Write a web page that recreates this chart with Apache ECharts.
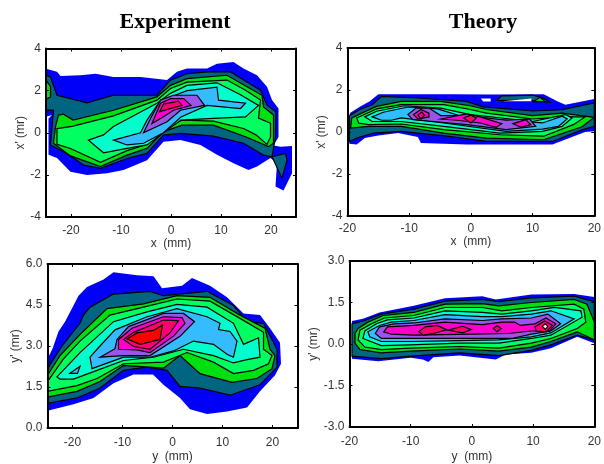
<!DOCTYPE html>
<html><head><meta charset="utf-8"><style>html,body{margin:0;padding:0;background:#fff}#c{width:604px;height:464px}</style>
<script src="https://cdn.jsdelivr.net/npm/echarts@6/dist/echarts.min.js"></script></head><body><div id="c"></div>
<script>
const levelColors={blue:'#0000fa',teal:'#006580',green:'#00e010',spring:'#00ff60',aqua:'#00ffcc',sky:'#35bcff',purple:'#9a55e8',magenta:'#ff00cc',crimson:'#ff0070',red:'#ff0000',white:'#ffffff'};
const tlX=[-20,-10,0,10,20], tlY13=[-4,-2,0,2,4], tlY3=[0,1.5,3,4.5,6], tlY4=[-3,-1.5,0,1.5,3];

// Experiment x-x'
const e1Blue=[[-25,3.04],[-22.8,2.9],[-22.1,2.7],[-18.1,2.73],[-15.1,2.8],[-11.5,2.65],[-6.1,2.65],[-.8,2.5],[1.2,2.9],[3.2,3.05],[7.2,3.05],[9.2,3.28],[12.5,3.36],[14.5,3.05],[17.2,2.73],[19.2,2.18],[20.2,1.55],[21.5,1.15],[21.5,-.2],[20.5,-.6],[21.9,-.66],[24.2,-.63],[24.2,-1.92],[22.5,-2.74],[20.9,-2.55],[21.2,-1.45],[19.9,-1.2],[17.2,-1.6],[15.5,-1.77],[12.5,-1.45],[9.2,-1.05],[5.9,-.58],[1.9,-.35],[-1.5,-.43],[-4.8,-1.3],[-9.5,-1.77],[-12.8,-1.92],[-16.8,-2],[-20.1,-1.85],[-22.8,-1.2],[-24.5,-1.05],[-24.5,.68],[-23.8,.84],[-25,.76]];
const e1Teal=[[-25,2.73],[-24.1,2.65],[-22.8,1.78],[-16.8,1.42],[-11.5,1.78],[-2.8,1.78],[-.1,2.5],[3.2,2.8],[7.2,2.89],[11.9,2.89],[15.2,2.41],[17.9,2.02],[19.2,1.31],[21,1],[20.9,-.2],[20.2,-1.14],[18.5,-1.06],[14.5,-.5],[8.5,-.16],[1.9,-.03],[-1.5,-.11],[-4.8,-.98],[-8.5,-1.2],[-14.1,-1.69],[-17.5,-1.53],[-20.8,-.98],[-24.1,-.58],[-23.5,1.07],[-25,1.07]];
const e1TealB=[[20.2,-1.14],[22.9,-.98],[23.2,-1.3],[22.2,-2.16]];
const e1GreenA=[[-25,2.5],[-24.1,2.2],[-24.1,1.7],[-25,1.6]];
const e1Green=[[-22.5,.84],[-21.5,.88],[-19.6,.6],[-11.5,1.07],[-2.8,1.7],[-.1,2.25],[3.2,2.57],[11.2,2.73],[15.2,2.18],[18.2,1.78],[18.5,1.23],[20.5,.84],[20.5,-.5],[19.5,-.66],[14.9,-.19],[8.5,.36],[2.2,.36],[-1.5,.05],[-4.8,-.74],[-8.8,-1.06],[-14.1,-1.6],[-20.1,-1.1],[-23.5,-.5],[-23.1,.28]];
const e1Spring=[[-22.8,.2],[-19.8,.3],[-11.5,.8],[-2.8,1.55],[-.1,2.1],[3.2,2.4],[11.2,2.5],[14.9,2.02],[17.9,1.55],[17.5,.7],[19.9,.45],[19.9,-.2],[19.2,-.55],[17,-.1],[14.5,.2],[8.5,.55],[2.2,.6],[-1.5,.2],[-4.8,-.55],[-8.8,-.85],[-14.1,-1.4],[-20.1,-.75],[-22.8,-.55]];
const e1Aqua=[[-16.5,-.35],[-13.5,-.1],[-11.5,.3],[-2.8,1.4],[-.1,1.87],[3.2,2.25],[9.2,2.37],[13.9,1.8],[17.5,1.3],[14.9,.75],[8.5,.68],[2,.6],[-1.5,0],[-4.8,-.58],[-8.8,-.74],[-13.5,-.95]];
const e1Sky=[[-11.5,-.35],[-6.1,0],[-4.8,.6],[-2.8,1.3],[-.1,1.7],[3.2,2],[9.2,2.17],[9.5,1.55],[14.9,1.4],[13.9,1.15],[7.2,1.3],[2,.75],[-1.5,0],[-5.5,-.5],[-8.8,-.58]];
const e1Purple=[[-5.5,0],[-4.1,.68],[-2.1,1.55],[.5,1.78],[5.2,1.78],[6.7,1.3],[1.9,1.07],[-.8,.52]];
const e1Magenta=[[-3.8,.44],[-2.1,1.4],[-.1,1.62],[2.5,1.62],[4,1.3],[.5,1.07],[-1.5,.76]];
const e1Crimson=[[-2.3,1],[-1.5,1.36],[1.5,1.5],[2.2,1.3],[-.1,1.15]];

// Theory x-x'
const t1Blue=[[-19.6,.9],[-18,1.2],[-16.4,1.46],[-15,1.8],[-3,1.8],[3,1.78],[11.8,1.8],[14,1.46],[15.3,1.3],[20,1.57],[20,.03],[18.5,0],[13.2,-.6],[10,-.6],[4.7,-.6],[-.7,-.6],[-8.1,-.52],[-8.6,-.24],[-11.8,-.05],[-15,-.17],[-17.2,-.29],[-18.5,-.6],[-19.7,-.56]];
const t1Teal=[[-19.7,.78],[-18,1.07],[-16,1.3],[-14.5,1.7],[-8.6,1.62],[-.7,1.46],[2,1.2],[10,1],[14.8,1.07],[20,1.38],[20,.27],[18,.1],[13.2,-.45],[10,-.45],[2.5,-.45],[-3.9,-.2],[-11.3,.03],[-15.8,-.05],[-18.5,-.29],[-19.7,-.45]];
const t1TealB=[[4.2,1.5],[5,1.72],[10,1.76],[11.8,1.6],[12.8,1.42],[9,1.52]];
const t1Green=[[-19.3,.67],[-17.7,.9],[-15.3,1.22],[-11.3,1.46],[-4.9,1.46],[-.1,1.25],[2.5,1.07],[10,.78],[14.8,.9],[20,.7],[18,.25],[11.8,-.37],[2.5,-.29],[-4.4,-.05],[-11.3,.27],[-16.6,.27],[-19.5,.19]];
const t1GreenB=[[10.2,1.45],[11.2,1.65],[12,1.45]];
const t1Spring=[[-18.5,.67],[-15.3,1.1],[-11.3,1.3],[-4.4,1.3],[-.1,1.07],[2.5,.9],[10,.62],[15.3,.72],[18.5,.72],[16.6,.35],[11.8,-.2],[4.7,-.13],[-4.4,.11],[-11.3,.38],[-16.6,.35],[-18.2,.43]];
const t1Aqua=[[-17.2,.72],[-15.3,.99],[-10.8,1.25],[-4.9,1.14],[-.1,.83],[10,.5],[15.3,.83],[16.4,.67],[14.8,.27],[11.6,.03],[4.7,-.05],[-4.4,.27],[-11.3,.5],[-16,.5]];
const t1Sky=[[-16,.72],[-14.2,.94],[-10.2,1.19],[-5.4,1.1],[-.1,.62],[4.7,.59],[11.6,.43],[14.8,.75],[15.6,.62],[14.2,.27],[11.6,.14],[5.7,.03],[-4.4,.43],[-11.3,.67],[-12.9,.56],[-14.5,.56]];
const t1Purple=[[-10.2,.83],[-8.9,1.14],[-6.8,1.14],[-4.9,.78],[-.7,.78],[2.5,.67],[5.7,.56],[9.5,.62],[10.5,.27],[5.7,.11],[-.7,.35],[-6,.5],[-9.4,.59]];
const t1MagentaA=[[-9.3,.83],[-8.1,1.07],[-6.8,.9],[-6.8,.72],[-8.6,.62]];
const t1MagentaB=[[-4.9,.62],[-.7,.86],[1.5,.72],[5,.4],[4.1,.22],[1.5,.43],[-2.3,.56]];
const t1MagentaC=[[6.8,.4],[8.9,.59],[9.7,.35],[8.1,.22]];
const t1CrimsonA=[[-1.2,.67],[0,.8],[.9,.67],[0,.43]];
const t1CrimsonB=[[-8.6,.8],[-8,.95],[-7.5,.8],[-8.1,.62]];
const t1HoleA=[[1.6,1.6],[3.2,1.6],[3.2,1.45],[2,1.45]];
const t1HoleB=[[5.2,1.46],[9.8,1.6],[9.8,1.46]];

// Experiment y-y'
const e2Blue=[[-25,2.53],[-24,2.9],[-22.8,3.53],[-21.5,3.89],[-19.8,4.48],[-18.8,4.84],[-17.1,5.16],[-13.8,5.43],[-11.8,5.7],[-7.1,5.59],[-3.8,5.55],[-2.1,5.11],[1.9,5.2],[3.9,5.49],[7.5,5.2],[10.9,4.78],[14.2,4.19],[17.5,4.13],[19.5,3.65],[21.5,3.12],[21.7,2.35],[20.5,1.93],[17.5,1.34],[14.9,.75],[10.9,.6],[6.9,.51],[3.5,.69],[1.5,1.1],[-1.8,1.58],[-3.9,1.96],[-7.8,1.96],[-11.8,1.64],[-15.8,1.1],[-19.8,.87],[-25,.63]];
const e2Teal=[[-25,2.17],[-22.1,3],[-18.5,3.83],[-17.8,4.13],[-16.5,4.42],[-11.8,4.9],[-4.5,5],[-1.8,4.84],[6.9,5],[12.2,4.48],[14.9,3.89],[18.2,3.83],[20.9,2.88],[20.9,2.23],[17.5,1.58],[11.5,1.2],[5.5,1.46],[1.5,1.52],[-1.1,2.11],[-5.1,2.23],[-9.8,2.11],[-14.5,1.46],[-19.1,1.1],[-25,.9]];
const e2Green=[[-25,1.93],[-22.5,2.65],[-18.5,3.42],[-13.1,4.37],[-5.8,4.54],[.9,4.84],[7.5,4.78],[13.5,4.13],[18.5,3.65],[19.5,2.88],[20.5,2.65],[19.9,2.17],[16.9,1.81],[11.9,1.67],[5.5,1.99],[1.5,2.65],[-1.8,2.19],[-9.8,2.29],[-14.5,1.7],[-19.1,1.34],[-25,1.13]];
const e2Spring=[[-25,1.7],[-21.8,2.53],[-18.5,3.18],[-12.5,4.13],[-5.8,4.42],[.9,4.72],[7.5,4.64],[13.5,4.01],[18.2,3.5],[18.2,2.88],[19.9,2.65],[19.2,2.35],[16.2,2.11],[12.2,1.99],[8.2,2.41],[2.9,2.76],[-1.8,2.41],[-9.8,2.35],[-15.1,1.81],[-19.1,1.55],[-25,1.34]];
const e2Aqua=[[-23.1,1.87],[-18.5,2.76],[-11.8,3.89],[-5.1,4.25],[.9,4.52],[6.9,4.42],[12.2,3.83],[14.2,3.06],[17.2,3.3],[17.5,2.59],[14.9,2.5],[12.2,2.38],[8.2,2.65],[2.2,2.88],[-3.8,2.59],[-9.8,2.47],[-15.1,2.11],[-19.8,1.79],[-22.5,1.79]];
const e2SkyB=[[-20.5,2],[-18.5,2.26],[-19,2]];
const e2Sky=[[-16.5,2.59],[-14.5,3],[-11.5,3.59],[-5.1,4.07],[.9,4.37],[6.9,4.07],[9.5,3.83],[9.2,3.6],[11.5,3.53],[12.9,3.18],[12.2,2.59],[10.9,2.7],[8.2,3.06],[4.2,3.18],[.2,2.82],[-4.5,2.59],[-9.8,2.59],[-16.1,2.17]];
const e2Purple=[[-14.5,2.59],[-11.5,2.9],[-11.1,3.24],[-8.8,3.71],[-1.8,4.19],[2.2,4.19],[4.4,3.89],[1.5,3.36],[-4.5,2.65],[-9.8,2.65]];
const e2Magenta=[[-10.8,2.88],[-10.8,3.24],[-8.1,3.65],[-1.8,4.07],[1.9,4.04],[2.5,3.83],[.2,3.36],[-4.5,2.76],[-7.1,2.86]];
const e2Crimson=[[-9.8,3.24],[-7.8,3.5],[-1.8,3.95],[1.2,3.93],[-.5,3.48],[-4.5,2.88],[-7.8,2.98]];
const e2Red=[[-9.1,3.26],[-7.1,3.48],[-3.8,3.57],[-2,3.77],[-2.5,3.24],[-6.5,3.06]];

// Theory y-y'
const t2Blue=[[-19.6,.83],[-17.8,.91],[-15.1,1.14],[-9.5,1.38],[-4.4,1.65],[1.7,1.73],[3.9,1.61],[9.7,1.79],[16.7,1.81],[20,1.7],[20,.03],[17.2,.26],[12.9,-.15],[9.7,-.32],[5.5,-.38],[3.9,-.56],[-2,-.42],[-5.7,-.47],[-6.3,-.48],[-7.1,-.65],[-8,-.56],[-10,-.5],[-15.3,-.62],[-19.6,-.53]];
const t2Teal=[[-19.6,.73],[-17.5,.85],[-14.8,1.08],[-9.5,1.26],[-4.4,1.55],[1.7,1.61],[4.4,1.53],[9.7,1.67],[16.7,1.73],[20,1.53],[20,.15],[17.2,.32],[12.9,-.03],[9.7,-.23],[4.4,-.42],[-2,-.32],[-10,-.44],[-14.8,-.53],[-19.6,-.44]];
const t2Green=[[-19.1,.38],[-18.6,.56],[-17,.79],[-14.5,1.03],[-9.5,1.14],[-4.4,1.44],[1.7,1.46],[4.4,1.38],[9.7,1.5],[16.7,1.61],[18.8,1.44],[20,.79],[20,.15],[17.2,.44],[12.9,.09],[9.7,-.11],[4.4,-.26],[-2,-.18],[-10,-.26],[-14.8,-.32],[-18.3,-.2],[-19.1,.03]];
const t2Spring=[[-18.6,.15],[-18.3,.5],[-16.4,.73],[-14.3,.94],[-9.5,1.03],[-4.4,1.32],[1.7,1.32],[4.9,1.2],[9.7,1.32],[16.7,1.44],[18.3,1.26],[18.6,.79],[17.2,.56],[12.9,.2],[9.7,.03],[4.4,-.15],[-2,-.09],[-10,-.15],[-14.8,-.2],[-17.5,-.11]];
const t2Aqua=[[-17.8,.2],[-17.5,.47],[-15.6,.73],[-13.8,.87],[-9.5,.94],[-4.4,1.2],[1.7,1.14],[4.9,1.08],[9.7,1.2],[13.5,1.32],[17.8,1.2],[18,.97],[12.9,.32],[9.7,.2],[4.4,.03],[-2,.03],[-10,-.03],[-14.8,-.06]];
const t2Sky=[[-16.7,.26],[-17,.44],[-15.1,.67],[-13.2,.79],[-9.5,.85],[-4.4,1.06],[1.7,.99],[4.9,.99],[9.7,1.08],[12.9,1.2],[16.7,.91],[12.9,.4],[9.7,.26],[4.4,.15],[-2,.12],[-10,.09],[-14.8,.09]];
const t2Purple=[[-15.8,.38],[-15.1,.62],[-12.7,.73],[-9.5,.76],[-4.4,.91],[1.7,.85],[4.9,.91],[9.7,.94],[12.4,1.08],[14.5,.73],[12.9,.47],[9.7,.36],[6.5,.2],[-2,.2],[-10,.2],[-14.8,.2]];
const t2Magenta=[[-14.4,.44],[-13.8,.62],[-9.5,.67],[-4.4,.79],[1.7,.7],[4.9,.79],[7,.79],[7.9,.67],[10.3,.73],[12.1,.94],[13.7,.73],[12.7,.47],[9.7,.47],[6,.38],[.1,.36],[-9.5,.32],[-13.2,.36]];
const t2CrimsonA=[[-8.7,.44],[-7.6,.62],[-5.7,.67],[-4.1,.52],[-6.3,.38],[-7.9,.32]];
const t2CrimsonB=[[-3.9,.5],[-1.5,.64],[-.1,.52],[-1.5,.4]];
const t2CrimsonC=[[3.5,.56],[4.1,.66],[4.8,.56],[4.1,.44]];
const t2CrimsonD=[[10.3,.62],[11.9,.83],[13.2,.67],[12.1,.44],[10.5,.47]];
const t2White=[[11.5,.64],[12,.73],[12.4,.64],[12,.53]];

const panels=[
 {box:[46,48.5,250,168.5],x:[-25,25],y:[-4,4],yt:tlY13,yd:0,xn:'x  (mm)',yn:"x' (mr)",lm:8,ng:20,yg:16,
  layers:[['blue',e1Blue,0],['teal',e1Teal],['teal',e1TealB],['green',e1GreenA],['green',e1Green],['spring',e1Spring],['aqua',e1Aqua],['sky',e1Sky],['purple',e1Purple],['magenta',e1Magenta],['crimson',e1Crimson]]},
 {box:[347.5,48,250.5,168],x:[-20,20],y:[-4,4],yt:tlY13,yd:0,xn:'x  (mm)',yn:"x' (mr)",lm:7,ng:20,yg:16,
  layers:[['blue',t1Blue,0],['teal',t1Teal],['teal',t1TealB],['green',t1GreenB],['white',t1HoleA,0],['white',t1HoleB,0],['green',t1Green],['spring',t1Spring],['aqua',t1Aqua],['sky',t1Sky],['purple',t1Purple],['magenta',t1MagentaA],['magenta',t1MagentaB],['magenta',t1MagentaC],['crimson',t1CrimsonA],['crimson',t1CrimsonB]]},
 {box:[47.5,264,250,168.5],x:[-25,25],y:[0,6],yt:tlY3,yd:1,xn:'y  (mm)',yn:"y' (mr)",lm:9,ng:23,yg:21,
  layers:[['blue',e2Blue,0],['teal',e2Teal],['green',e2Green],['spring',e2Spring],['aqua',e2Aqua],['sky',e2SkyB],['sky',e2Sky],['purple',e2Purple],['magenta',e2Magenta],['crimson',e2Crimson],['red',e2Red]]},
 {box:[349.5,261,250,170],x:[-20,20],y:[-3,3],yt:tlY4,yd:1,xn:'y  (mm)',yn:"y' (mr)",lm:9,ng:24,yg:21,
  layers:[['blue',t2Blue,0],['teal',t2Teal],['green',t2Green],['spring',t2Spring],['aqua',t2Aqua],['sky',t2Sky],['purple',t2Purple],['magenta',t2Magenta],['crimson',t2CrimsonA],['crimson',t2CrimsonB],['crimson',t2CrimsonC],['crimson',t2CrimsonD],['white',t2White]]}
];

const font='"Liberation Sans",Arial,sans-serif', txt='#333';
const grid=[],xAxis=[],yAxis=[],series=[];
panels.forEach((p,i)=>{
 grid.push({left:p.box[0],top:p.box[1],width:p.box[2],height:p.box[3]});
 const line={show:true,onZero:false,lineStyle:{color:'#000',width:2}};
 const base=(ext,vals)=>({min:ext[0],max:ext[1],type:'value',gridIndex:i,splitLine:{show:false},z:5,axisLine:line,
   axisTick:{show:true,inside:true,length:3,customValues:vals,lineStyle:{color:'#000',width:1}}});
 xAxis.push({...base(p.x,tlX),position:'bottom',name:p.xn,nameLocation:'middle',nameGap:p.ng,nameTextStyle:{color:txt,fontSize:12,fontFamily:font},
   axisLabel:{color:txt,fontSize:12,fontFamily:font,margin:p.lm,customValues:tlX,hideOverlap:false,showMinLabel:true,showMaxLabel:true}});
 xAxis.push({...base(p.x,tlX),position:'top',axisLabel:{show:false}});
 yAxis.push({...base(p.y,p.yt),position:'left',name:p.yn,nameLocation:'middle',nameGap:p.yg,nameTextStyle:{color:txt,fontSize:12,fontFamily:font},
   axisLabel:{color:txt,fontSize:12,fontFamily:font,margin:5,customValues:p.yt,hideOverlap:false,showMinLabel:true,showMaxLabel:true,formatter:v=>Number(v).toFixed(p.yd)}});
 yAxis.push({...base(p.y,p.yt),position:'right',axisLabel:{show:false}});
 series.push({type:'custom',xAxisIndex:i*2,yAxisIndex:i*2,coordinateSystem:'cartesian2d',silent:true,animation:false,clip:true,z:2,
   data:p.layers.map((l,j)=>[l[1][0][0],l[1][0][1],j]),encode:{x:0,y:1},
   renderItem(params,api){
     const l=p.layers[params.dataIndex];
     return {type:'polygon',shape:{points:l[1].map(q=>api.coord(q))},
       style:{fill:levelColors[l[0]],stroke:l[2]===0?null:'#000',lineWidth:l[2]===0?0:1.2}};
   }});
});
const chart=echarts.init(document.getElementById('c'),null,{renderer:'canvas'});
const titleStyle={fontFamily:'"Liberation Serif",serif',fontWeight:'bold',fontSize:22,color:'#000'};
chart.setOption({animation:false,backgroundColor:'#fff',
 title:[{text:'Experiment',left:170,top:6,textAlign:'center',textStyle:titleStyle},
        {text:'Theory',left:478,top:6,textAlign:'center',textStyle:titleStyle}],
 grid,xAxis,yAxis,series});
</script></body></html>
